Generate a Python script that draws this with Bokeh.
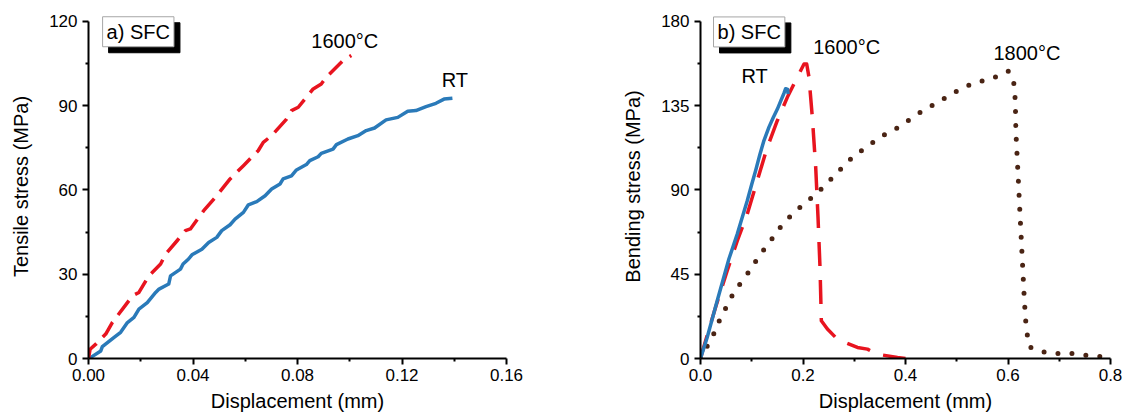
from bokeh.plotting import figure
from bokeh.layouts import row
from bokeh.models import Range1d, FixedTicker, NumeralTickFormatter, Label
from bokeh.embed import file_html
from bokeh.resources import INLINE

# ---------------- data: panel a (tensile) ----------------
a_rt_x = [0.0, 0.0009, 0.0047, 0.0053, 0.0098, 0.0123, 0.0149, 0.0174, 0.0193, 0.0225, 0.0257,
          0.0270, 0.0307, 0.0314, 0.0352, 0.0362, 0.0383, 0.0396, 0.0434, 0.0460, 0.0491, 0.0510,
          0.0542, 0.0561, 0.0593, 0.0612, 0.0644, 0.0676, 0.0701, 0.0733, 0.0745, 0.0777, 0.0796,
          0.0834, 0.0847, 0.0879, 0.0891, 0.0936, 0.0949, 0.0993, 0.1031, 0.1063, 0.1095, 0.1139,
          0.1184, 0.1222, 0.1253, 0.1292, 0.1330, 0.1361, 0.1393]
a_rt_y = [0.0, 0.4, 2.7, 4.2, 7.5, 9.3, 12.8, 14.6, 17.6, 19.9, 23.5,
          24.7, 26.5, 29.4, 31.8, 33.6, 35.4, 36.9, 38.9, 41.3, 43.1, 45.5,
          47.6, 49.6, 52.0, 54.7, 55.8, 57.9, 60.3, 62.1, 63.9, 65.0, 67.1,
          69.0, 70.4, 71.8, 73.0, 74.5, 76.1, 78.1, 79.3, 81.1, 82.0, 84.9,
          85.8, 88.0, 88.2, 89.6, 90.8, 92.3, 92.6]
a_hot_x = [0.0, 0.0006, 0.0028, 0.0066, 0.0091, 0.0149, 0.0168, 0.0193, 0.0231, 0.0276, 0.0295,
           0.0339, 0.0371, 0.0390, 0.0441, 0.0485, 0.0542, 0.0593, 0.0650, 0.0669, 0.0701, 0.0758,
           0.0777, 0.0803, 0.0860, 0.0891, 0.0910, 0.0974, 0.1006]
a_hot_y = [0.0, 3.3, 5.1, 8.7, 12.8, 19.9, 22.3, 23.5, 29.4, 33.6, 37.1,
           41.9, 45.5, 46.1, 52.6, 57.3, 63.9, 68.6, 74.0, 76.9, 79.3, 85.2,
           88.2, 89.4, 95.9, 97.7, 100.1, 106.0, 107.8]

# ---------------- data: panel b (bending) ----------------
b_rt_x = [0.0, 0.013, 0.0326, 0.0554, 0.0717, 0.0912, 0.1000, 0.1075, 0.1160, 0.1238, 0.1336,
          0.1420, 0.1498, 0.1570, 0.1629, 0.1661, 0.1700, 0.1710]
b_rt_y = [0.0, 11.2, 30.8, 53.1, 66.4, 84.2, 93.0, 100.2, 109.0, 116.3, 123.5,
          128.6, 133.0, 137.8, 141.6, 144.0, 143.6, 141.2]
b_1600_x = [0.0, 0.0098, 0.0293, 0.0521, 0.0717, 0.0912, 0.1107, 0.1303, 0.1498, 0.1694, 0.1889,
            0.2020, 0.2072, 0.2117, 0.2182, 0.2248, 0.2293, 0.2332, 0.2358, 0.2476, 0.2671, 0.3062,
            0.3257, 0.3453, 0.3844, 0.4000]
b_1600_y = [0.0, 9.4, 27.2, 46.8, 62.8, 77.1, 94.9, 112.7, 126.9, 139.4, 150.1,
            157.2, 157.2, 150.1, 128.7, 102.0, 75.3, 48.6, 20.1, 15.7, 10.3, 5.9,
            5.0, 2.3, 0.5, 0.0]
b_1800_x = [0.0, 0.0098, 0.0215, 0.0310, 0.0391, 0.0489, 0.0586, 0.0697, 0.0827, 0.0958, 0.1075,
            0.1199, 0.1316, 0.1446, 0.1564, 0.1713, 0.1876, 0.2052, 0.2215, 0.2378, 0.2528, 0.2671,
            0.2834, 0.2997, 0.3160, 0.3336, 0.3518, 0.3713, 0.3896, 0.4078, 0.4267, 0.4463, 0.4645,
            0.4834, 0.5016, 0.5212, 0.5427, 0.5635, 0.5831, 0.6007, 0.6104, 0.6143, 0.6156, 0.6189,
            0.6221, 0.6254, 0.6287, 0.6320, 0.6352, 0.6384, 0.6404, 0.6593, 0.6808, 0.7036, 0.7231,
            0.7427, 0.7655, 0.7883]
b_1800_y = [0.0, 5.0, 10.7, 16.0, 21.9, 26.7, 32.1, 37.0, 41.9, 46.8, 51.8,
            56.6, 61.4, 65.5, 70.3, 74.8, 79.2, 83.1, 86.9, 91.0, 95.2, 99.3,
            103.8, 108.3, 111.3, 114.8, 118.4, 121.1, 124.0, 127.5, 131.0, 134.1, 137.1,
            139.9, 143.0, 145.6, 147.8, 148.9, 151.0, 153.3, 149.8, 137.6, 119.8, 102.0,
            84.2, 66.4, 48.6, 30.8, 17.4, 11.2, 6.4, 4.1, 2.8, 2.7, 2.7,
            2.0, 1.4, 0.9]

# ---------------- ticks ----------------
a_x_ticks = [0.0, 0.04, 0.08, 0.12, 0.16]
a_x_minor = [0.02, 0.06, 0.10, 0.14]
a_y_ticks = [0, 30, 60, 90, 120]
a_y_minor = [15, 45, 75, 105]
b_x_ticks = [0.0, 0.2, 0.4, 0.6, 0.8]
b_x_minor = [0.1, 0.3, 0.5, 0.7]
b_y_ticks = [0, 45, 90, 135, 180]
b_y_minor = [22.5, 67.5, 112.5, 157.5]

FONT = "Liberation Sans"
BLUE = "#2a7ab9"
RED = "#e8141f"
BROWN = "#4a2414"


def style(p, xt, xm, yt, ym, xfmt, xb, yb, xlabel, ylabel):
    p.xaxis.ticker = FixedTicker(ticks=xt, minor_ticks=xm)
    p.yaxis.ticker = FixedTicker(ticks=yt, minor_ticks=ym)
    p.xaxis.formatter = NumeralTickFormatter(format=xfmt)
    p.xaxis.bounds = xb
    p.yaxis.bounds = yb
    p.xaxis.axis_label = xlabel
    p.yaxis.axis_label = ylabel
    for ax in (p.xaxis[0], p.yaxis[0]):
        ax.axis_line_width = 2
        ax.axis_line_color = "black"
        ax.major_tick_line_width = 2
        ax.minor_tick_line_width = 2
        ax.major_tick_line_color = "black"
        ax.minor_tick_line_color = "black"
        ax.major_tick_in = 0
        ax.major_tick_out = 6
        ax.minor_tick_in = 0
        ax.minor_tick_out = 3
        ax.major_label_text_font = FONT
        ax.major_label_text_font_size = "17px"
        ax.major_label_text_color = "black"
        ax.axis_label_text_font = FONT
        ax.axis_label_text_font_size = "20px"
        ax.axis_label_text_font_style = "normal"
        ax.axis_label_text_color = "black"
    p.xaxis.major_label_standoff = 4
    p.yaxis.major_label_standoff = 5
    p.xaxis.axis_label_standoff = 6
    p.yaxis.axis_label_standoff = 14
    p.xgrid.visible = False
    p.ygrid.visible = False
    p.outline_line_color = None
    p.background_fill_color = "white"
    p.border_fill_color = "white"


def tag(p, x, y, text):
    shadow = Label(x=x, y=y, text=text, text_baseline="top", text_align="left",
                   text_font=FONT, text_font_size="20px", text_color="black",
                   background_fill_color="black", border_line_color="black",
                   padding=4, x_offset=6, y_offset=-6)
    box = Label(x=x, y=y, text=text, text_baseline="top", text_align="left",
                text_font=FONT, text_font_size="20px", text_color="black",
                background_fill_color="white", border_line_color="#a6a6a6",
                border_line_width=1, padding=4)
    p.add_layout(shadow)
    p.add_layout(box)


def note(p, x, y, text):
    p.add_layout(Label(x=x, y=y, text=text, text_baseline="middle", text_align="left",
                       text_font=FONT, text_font_size="20px", text_color="black"))


# ---------------- panel a ----------------
pa = figure(width=600, height=418, output_backend="svg", toolbar_location=None,
            x_range=Range1d(0, 0.16), y_range=Range1d(0, 122.4),
            min_border_left=88, min_border_right=94, min_border_top=14, min_border_bottom=60)
style(pa, a_x_ticks, a_x_minor, a_y_ticks, a_y_minor, "0.00", (0, 0.16), (0, 120),
      "Displacement (mm)", "Tensile stress (MPa)")
pa.line(a_rt_x, a_rt_y, line_color=BLUE, line_width=3.5, line_join="round")
pa.line(a_hot_x, a_hot_y, line_color=RED, line_width=3.5, line_dash="18 9", line_join="round")
tag(pa, 0.0054, 121.6, "a) SFC")
note(pa, 0.0853, 112.8, "1600°C")
note(pa, 0.1352, 99.2, "RT")

# ---------------- panel b ----------------
pb = figure(width=535, height=418, output_backend="svg", toolbar_location=None,
            x_range=Range1d(0, 0.8), y_range=Range1d(0, 183.6),
            min_border_left=100, min_border_right=25, min_border_top=14, min_border_bottom=60)
style(pb, b_x_ticks, b_x_minor, b_y_ticks, b_y_minor, "0.0", (0, 0.8), (0, 180),
      "Displacement (mm)", "Bending stress (MPa)")
pb.line(b_1800_x, b_1800_y, line_color=BROWN, line_width=5, line_dash="0 14", line_cap="round")
pb.line(b_1600_x, b_1600_y, line_color=RED, line_width=3.5, line_dash="24 14", line_join="round")
pb.line(b_rt_x, b_rt_y, line_color=BLUE, line_width=3.5, line_join="round")
tag(pb, 0.0254, 182.3, "b) SFC")
note(pb, 0.2199, 166.2, "1600°C")
note(pb, 0.5717, 163.0, "1800°C")
note(pb, 0.08, 151.0, "RT")

layout = row(pa, pb)
open("out.html", "w").write(file_html(layout, INLINE))
